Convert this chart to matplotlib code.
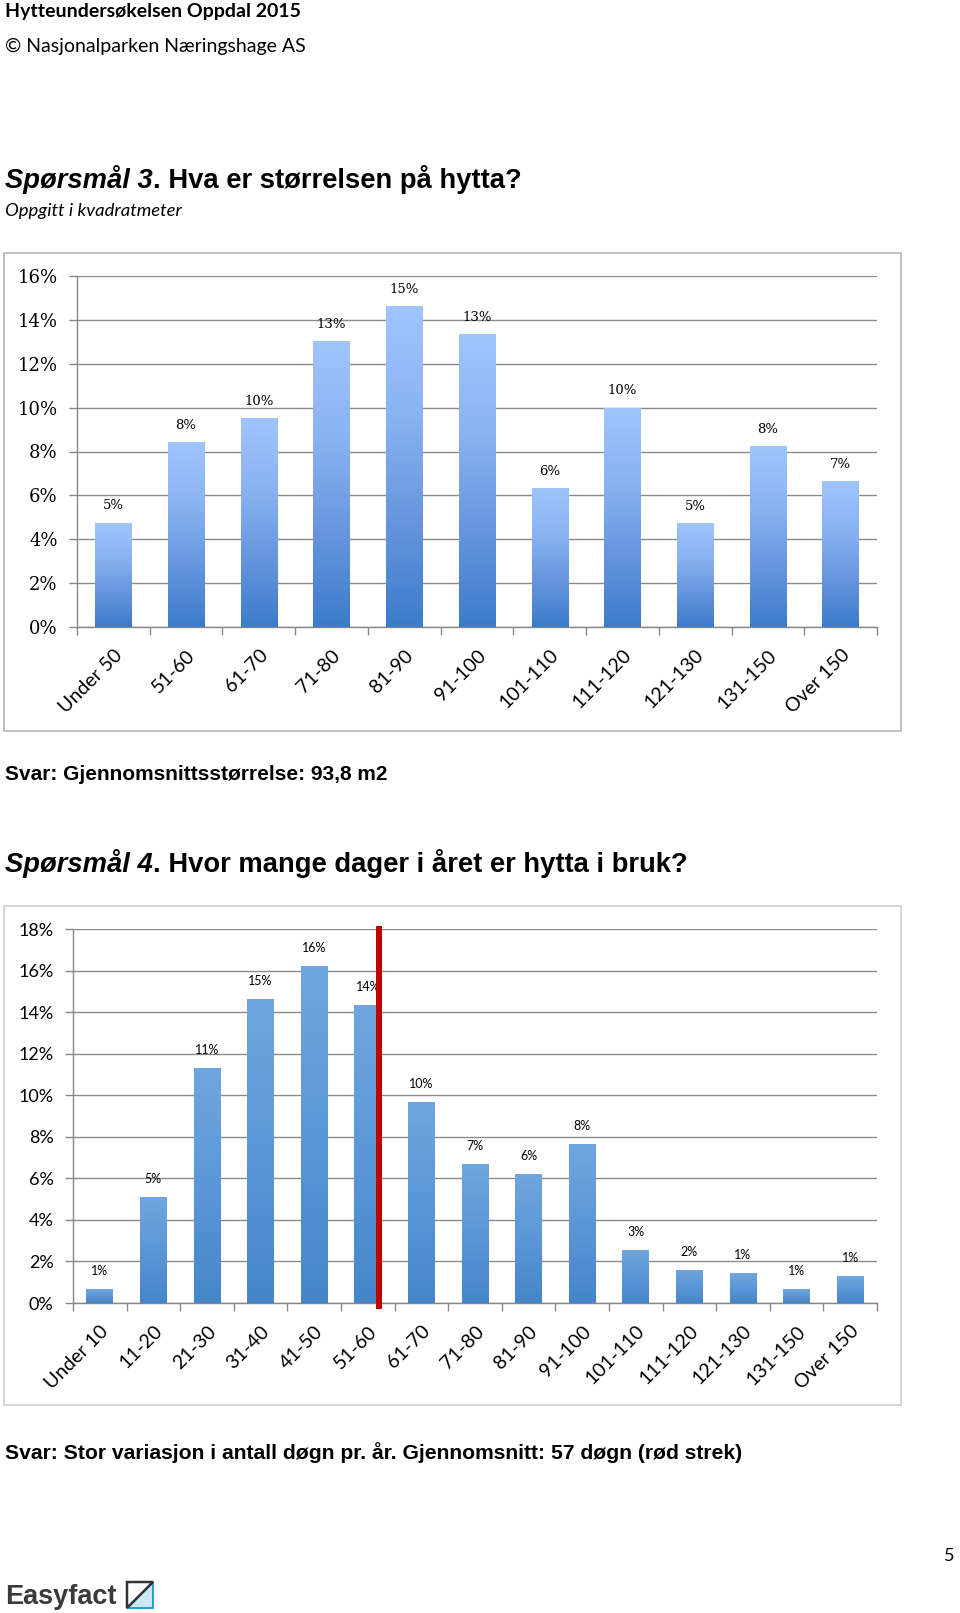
import numpy as np
import matplotlib
matplotlib.use("Agg")
import matplotlib.pyplot as plt
from matplotlib.colors import LinearSegmentedColormap
from matplotlib.patches import Rectangle, Polygon

# Spørsmål 3: størrelse på hytta (kvadratmeter)
size_cats = ["Under 50", "51-60", "61-70", "71-80", "81-90", "91-100",
             "101-110", "111-120", "121-130", "131-150", "Over 150"]
size_vals = [4.76, 8.42, 9.53, 13.05, 14.62, 13.34, 6.34, 10.0, 4.75, 8.24, 6.67]
size_labels = ["5%", "8%", "10%", "13%", "15%", "13%", "6%", "10%", "5%", "8%", "7%"]
size_ticks = [0, 2, 4, 6, 8, 10, 12, 14, 16]

# Spørsmål 4: antall dager i bruk
days_cats = ["Under 10", "11-20", "21-30", "31-40", "41-50", "51-60", "61-70",
             "71-80", "81-90", "91-100", "101-110", "111-120", "121-130",
             "131-150", "Over 150"]
days_vals = [0.65, 5.08, 11.3, 14.64, 16.23, 14.32, 9.69, 6.67, 6.2, 7.65,
             2.54, 1.59, 1.42, 0.65, 1.29]
days_labels = ["1%", "5%", "11%", "15%", "16%", "14%", "10%", "7%", "6%", "8%",
               "3%", "2%", "1%", "1%", "1%"]
days_ticks = [0, 2, 4, 6, 8, 10, 12, 14, 16, 18]
mean_pos = 5.2  # 57 døgn

W, H = 960, 1613
fig = plt.figure(figsize=(W / 100, H / 100), dpi=100)

SANS = ["Lato", "DejaVu Sans"]
ARIAL = ["Liberation Sans", "DejaVu Sans"]


def fx(x):
    return x / W


def fy(y):
    return 1 - y / H


def gradient_bars(ax, bars, colors):
    # colors listed top -> bottom
    cmap = LinearSegmentedColormap.from_list("g", colors)
    grad = np.linspace(0, 1, 100).reshape(-1, 1)
    for b in bars:
        x, y = b.get_x(), b.get_y()
        w, h = b.get_width(), b.get_height()
        im = ax.imshow(grad, extent=[x, x + w, y, y + h], cmap=cmap,
                       aspect="auto", origin="upper", zorder=b.get_zorder())
        im.set_clip_path(b)


def style_axes(ax, n, ticks, tick_font, tick_size):
    ax.set_xlim(-0.5, n - 0.5)
    ax.set_ylim(0, ticks[-1])
    ax.set_yticks(ticks)
    ax.set_yticklabels([f"{t}%" for t in ticks], family=tick_font, fontsize=tick_size)
    ax.set_xticks(np.arange(n + 1) - 0.5, minor=True)
    ax.tick_params(axis="x", which="major", length=0)
    ax.tick_params(axis="x", which="minor", length=6, color="#888888", width=1)
    ax.tick_params(axis="y", length=6, color="#888888", width=1, pad=8)
    ax.grid(axis="y", color="#8a8a8a", lw=1)
    ax.set_axisbelow(True)
    for s in ["top", "right"]:
        ax.spines[s].set_visible(False)
    for s in ["left", "bottom"]:
        ax.spines[s].set_color("#888888")
        ax.spines[s].set_linewidth(1)


def question(y, lead, rest):
    t = fig.text(fx(5), fy(y), lead, family=ARIAL, fontweight="bold",
                 style="italic", fontsize=19.7, va="center")
    fig.canvas.draw()
    bb = t.get_window_extent()
    fig.text(bb.x1 / W, fy(y), rest, family=ARIAL, fontweight="bold",
             fontsize=19.7, va="center")


# header texts
fig.text(fx(5), fy(11), "Hytteundersøkelsen Oppdal 2015", family=SANS,
         fontweight="bold", fontsize=14, va="center")
fig.text(fx(5), fy(46), "© Nasjonalparken Næringshage AS", family=SANS,
         fontsize=14, va="center")

question(179, "Spørsmål 3", ". Hva er størrelsen på hytta?")
fig.text(fx(5), fy(211), "Oppgitt i kvadratmeter", family=SANS, style="italic",
         fontsize=13.3, va="center")

# chart boxes
fig.add_artist(Rectangle((fx(4), fy(731)), fx(897), (731 - 253) / H,
                         transform=fig.transFigure, fill=False, ec="#b5b5b5", lw=1.2))
fig.add_artist(Rectangle((fx(4), fy(1405)), fx(897), (1405 - 906) / H,
                         transform=fig.transFigure, fill=False, ec="#cfcfcf", lw=1.2))

# chart 1
ax1 = fig.add_axes([fx(77), fy(627), fx(800), (627 - 276) / H])
x1 = np.arange(len(size_cats))
bars1 = ax1.bar(x1, size_vals, width=0.5, color="none", zorder=3)
gradient_bars(ax1, bars1, ["#9fc5fd", "#8ab3f2", "#6796df", "#3d7cca"])
style_axes(ax1, len(size_cats), size_ticks, ["DejaVu Serif"], 13)
ax1.set_xticks(x1)
ax1.set_xticklabels(size_cats, rotation=45, ha="right", rotation_mode="anchor",
                    family=SANS, fontsize=14)
ax1.tick_params(axis="x", which="major", pad=14)
for xi, v, lab in zip(x1, size_vals, size_labels):
    ax1.annotate(lab, (xi, v), xytext=(0, 12), textcoords="offset points",
                 ha="center", va="center", family=["DejaVu Serif"], fontsize=9.5)

fig.text(fx(5), fy(774), "Svar: Gjennomsnittsstørrelse: 93,8 m2", family=ARIAL,
         fontweight="bold", fontsize=15, va="center")

question(864, "Spørsmål 4", ". Hvor mange dager i året er hytta i bruk?")

# chart 2
ax2 = fig.add_axes([fx(73), fy(1303), fx(804), (1303 - 929) / H])
x2 = np.arange(len(days_cats))
bars2 = ax2.bar(x2, days_vals, width=0.5, color="none", zorder=3)
gradient_bars(ax2, bars2, ["#6fa6dd", "#5b97d8", "#4785ca"])
style_axes(ax2, len(days_cats), days_ticks, SANS, 13)
ax2.set_xticks(x2)
ax2.set_xticklabels(days_cats, rotation=45, ha="right", rotation_mode="anchor",
                    family=SANS, fontsize=14)
ax2.tick_params(axis="x", which="major", pad=14)
for xi, v, lab in zip(x2, days_vals, days_labels):
    ax2.annotate(lab, (xi, v), xytext=(0, 13), textcoords="offset points",
                 ha="center", va="center", family=SANS, fontsize=9)
ax2.axvline(mean_pos, ymin=-0.008, ymax=1, color="#c00000", lw=4.3, zorder=5,
            clip_on=False)

fig.text(fx(5), fy(1453),
         "Svar: Stor variasjon i antall døgn pr. år. Gjennomsnitt: 57 døgn (rød strek)",
         family=ARIAL, fontweight="bold", fontsize=15.2, va="center")

# footer
fig.text(fx(954), fy(1556), "5", family=SANS, fontsize=13, ha="right", va="center")
fig.text(fx(5), fy(1597), "Easyfact", family=ARIAL, fontweight="bold", fontsize=19.5,
         color="#3a3a3a", va="center")
x0, y0, s = fx(127), fy(1608), 26
sx, sy = s / W, s / H
fig.add_artist(Polygon([(x0, y0), (x0 + sx, y0), (x0 + sx, y0 + sy)],
                       closed=True, transform=fig.transFigure,
                       fc="#cde9f7", ec="#2c9fd8", lw=1.5))
fig.add_artist(Polygon([(x0, y0), (x0, y0 + sy), (x0 + sx, y0 + sy)],
                       closed=True, transform=fig.transFigure,
                       fc="none", ec="#333333", lw=1.8))

fig.savefig("out.png", dpi=100)
